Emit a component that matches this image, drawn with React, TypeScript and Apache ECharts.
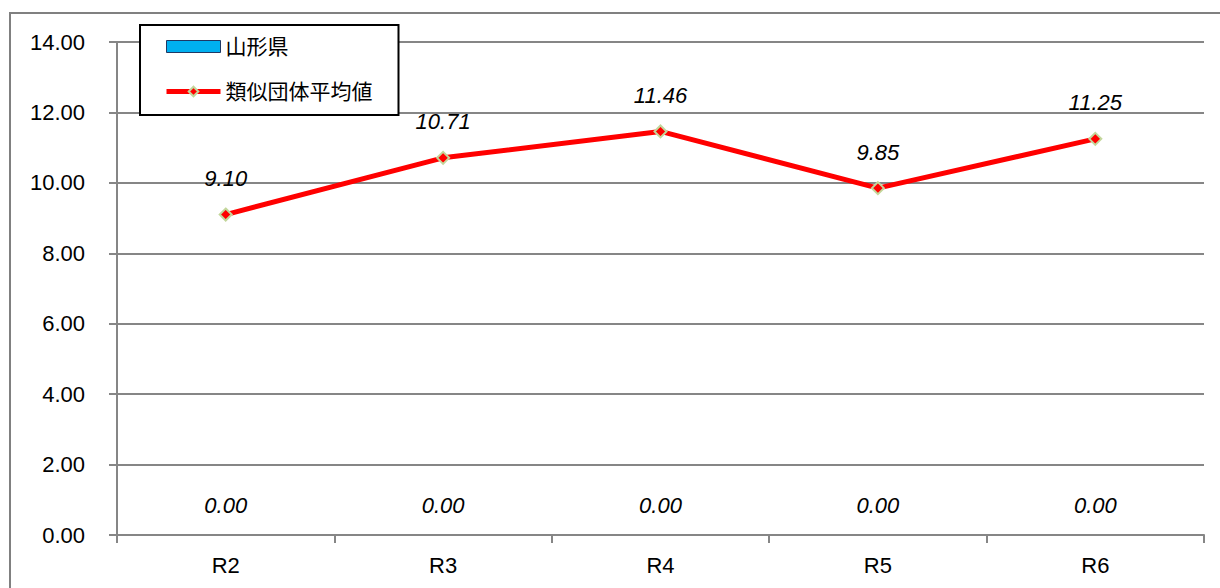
import React, { useEffect, useRef } from "react";
import * as echarts from "echarts";

const categories = ["R2", "R3", "R4", "R5", "R6"];
const yamagataValues = [0, 0, 0, 0, 0];
const similarAvgValues = [9.1, 10.71, 11.46, 9.85, 11.25];
const seriesNames = ["山形県", "類似団体平均値"];

const FONT = "'Liberation Sans', Arial, 'Noto Sans CJK JP', sans-serif";
const GRAY = "#868686";

export default function App() {
  const ref = useRef<HTMLDivElement>(null);
  useEffect(() => {
    if (!ref.current) return;
    const chart = echarts.init(ref.current, undefined, { renderer: "svg" });
    chart.setOption({
      animation: false,
      backgroundColor: "#ffffff",
      textStyle: { fontFamily: FONT },
      grid: { left: 117, right: 16, top: 42, bottom: 53, containLabel: false },
      graphic: [
        {
          type: "rect",
          shape: { x: 10, y: 13, width: 1240, height: 620 },
          style: { fill: "none", stroke: "#808080", lineWidth: 2 },
          silent: true,
          z: 0,
        },
      ],
      legend: {
        orient: "vertical",
        left: 140,
        top: 25,
        padding: [11, 26, 13, 24],
        itemGap: 24,
        itemWidth: 54,
        itemHeight: 12,
        borderColor: "#000000",
        borderWidth: 2,
        backgroundColor: "#ffffff",
        textStyle: { fontSize: 21, color: "#000", fontFamily: FONT },
        data: [
          {
            name: seriesNames[0],
            icon: "rect",
            itemStyle: { color: "#00B0F0", borderColor: "#1F3864", borderWidth: 1 },
          },
          {
            name: seriesNames[1],
            lineStyle: { color: "#FF0000", width: 5 },
          },
        ],
      },
      xAxis: {
        type: "category",
        data: categories,
        boundaryGap: true,
        axisLine: { lineStyle: { color: GRAY, width: 2 } },
        axisTick: { show: true, length: 8, lineStyle: { color: GRAY, width: 2 } },
        axisLabel: { color: "#000", fontSize: 22, margin: 19, fontFamily: FONT },
        splitLine: { show: false },
      },
      yAxis: {
        type: "value",
        min: 0,
        max: 14,
        interval: 2,
        axisLine: { show: true, lineStyle: { color: GRAY, width: 2 } },
        axisTick: { show: true, length: 8, lineStyle: { color: GRAY, width: 2 } },
        axisLabel: {
          color: "#000",
          fontSize: 22,
          margin: 32,
          fontFamily: FONT,
          formatter: (v: number) => v.toFixed(2),
        },
        splitLine: { show: true, lineStyle: { color: GRAY, width: 2 } },
      },
      series: [
        {
          name: seriesNames[0],
          type: "bar",
          data: yamagataValues,
          barWidth: "40%",
          itemStyle: { color: "#00B0F0", borderWidth: 0 },
          label: {
            show: true,
            position: "top",
            distance: 19,
            fontSize: 22,
            fontStyle: "italic",
            color: "#000",
            fontFamily: FONT,
            formatter: (p: any) => Number(p.value).toFixed(2),
          },
          z: 2,
        },
        {
          name: seriesNames[1],
          type: "line",
          data: similarAvgValues,
          symbol: "diamond",
          symbolSize: 12,
          lineStyle: { color: "#FF0000", width: 5 },
          itemStyle: { color: "#FF0000", borderColor: "#C3D69B", borderWidth: 2 },
          label: {
            show: true,
            position: "top",
            distance: 18,
            fontSize: 22,
            fontStyle: "italic",
            color: "#000",
            fontFamily: FONT,
            formatter: (p: any) => Number(p.value).toFixed(2),
          },
          z: 3,
        },
      ],
    });
    return () => chart.dispose();
  }, []);
  return (
    <div
      ref={ref}
      style={{ position: "fixed", left: 0, top: 0, width: 1220, height: 588 }}
    />
  );
}
